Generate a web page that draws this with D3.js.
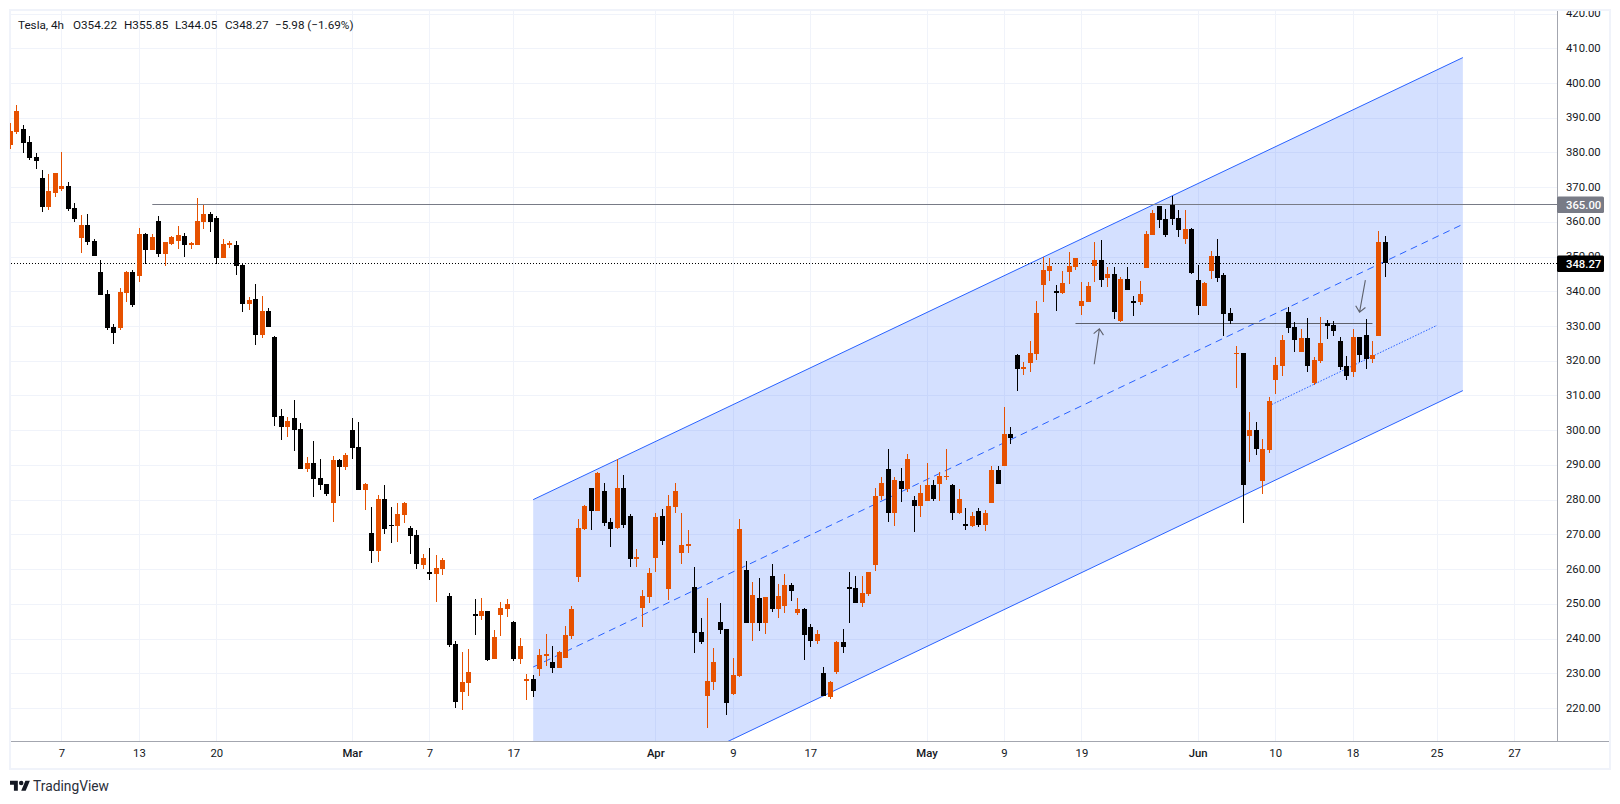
<!DOCTYPE html>
<html><head><meta charset="utf-8">
<script src="https://d3js.org/d3.v7.min.js"></script>
<style>
html,body{margin:0;padding:0;background:#fff}
svg{display:block}
text{font-family:Roboto,sans-serif;fill:#131722}
</style></head><body>
<div id="chart"></div>
<script>
const opens=[382.1,385.8,386.7,382.9,378.6,372.55,364.2,368.2,369.4,370.25,
363.9,355.25,359,354.4,345.5,339.15,329.65,329.35,339.4,345.5,
344.3,356.4,351.8,360.15,350.65,353.55,354.4,355.85,353.25,353.25,
359.9,362.2,361,349.5,353.25,353.25,347.5,336.25,337.7,327.35,
334.25,326.8,304,300.85,303.45,300.3,288.75,290.5,286.2,284.45,
278.95,291.35,289.35,300,295.1,282.7,270.3,265.15,280.1,272.6,
272.3,275.5,271.75,269.75,261.1,259.1,258.5,259.95,252.2,238.35,
224.5,227.1,247,246.4,247.85,234,246.7,248.4,244.7,234,
227.7,228.3,231.15,234.9,233.2,231.45,234.35,240.65,257.65,271.5,
283.3,276.65,282.45,273.5,271.8,283.3,275.2,262.85,248.75,251.9,
263.15,275.2,254.2,277.8,264.6,266.6,254.8,241.8,223.4,227.4,
244.7,242.7,224,229.15,259.7,244.4,251.6,244.4,257.95,248.45,
249.3,255.35,247.3,248.45,243.25,239.2,230,223.1,230.3,238.9,
254.75,254.5,250.15,252.75,261.1,281,288.75,276.05,285.3,283,
279.8,278.1,279.5,284.15,284.4,286.45,284.15,276.05,272.9,272.35,
276.65,272.6,279,288.45,289.6,298.8,321.6,317.55,319.3,321.85,
341.75,345.8,340,339.45,345.5,346.95,335.7,336.85,347.2,348.95,
343.75,344.9,331.4,343.5,337.15,336.85,346.65,356.15,364.5,360.75,
364.8,361,355,357.9,343.2,335.7,345.8,350.1,344.6,333.7,
321.9,322.15,298.25,300,285.3,294.2,314.4,318.4,334,329.65,
322.45,326.5,313.5,319.85,330.8,330.2,325.6,318.4,316.7,326.8,
327.35,320.45,327.05,354.22];
const closes=[386.1,391.85,382.6,378.3,377.45,364.2,368.8,374,370.25,363.6,
360.75,359,354.1,350.1,338.85,329.35,327.9,339.7,345.5,336,
356.4,351.8,355.55,350.65,354.1,355.55,356.1,353.25,353.8,360.15,
362.2,359.9,349.5,353.55,353.8,347.2,336.25,337.4,327.35,334.25,
329.65,303.7,300.85,302.6,300,288.75,290.5,285.9,284.15,281.55,
291.35,289.35,292.8,294.8,282.7,284.45,265.15,280.1,271.5,272.3,
275.8,278.95,269.45,261.4,263.1,258.5,260.25,262.55,238.05,221.65,
227.4,230.3,246.4,247.85,233.75,240.4,248.7,249.9,234,237.8,
228.25,224.8,235.2,235.5,231.45,236.05,240.95,248.45,271.8,278.1,
276.65,287.6,273.2,271.5,283.3,272.65,262.85,263.4,252.2,258.8,
274.95,268,278.1,282.45,266.9,267.15,241.5,238.95,227.7,233.2,
242.4,221.4,229.4,271.5,244.4,252.5,244.4,251.9,248.45,252.2,
255.35,253.65,248.45,240.95,239.2,241.25,223.4,227.4,238.95,237.5,
254.2,250.15,253,259.1,280.95,284.7,276.05,285.6,283,291.65,
278.1,281.8,284.15,280.1,286.75,286.75,276.05,280.1,272.35,275.2,
272.6,276.05,288.45,284.4,298.8,297.7,317.55,318.1,322.15,333.7,
346.05,347.2,339.45,342.3,347.2,349.5,337.15,341.45,348.95,343.2,
344.9,334,343.5,340.3,336.55,339.15,356.45,362.5,360.5,356.15,
360.75,357.6,357.9,345.2,335.7,342.3,350.1,343.75,333.4,331.4,
322.15,284.15,300,294.5,294.5,308.35,318.7,325.9,329.35,325.9,
326.5,318.4,320.15,325.05,329.95,328.5,318.1,315.55,326.8,321.6,
320.45,321.6,354.22,348.27];
const highs=[388.5,393.6,387.8,384.65,379.75,374.85,373.7,374,380.05,371.4,
365.35,361.9,362.2,355,348.9,340.3,330.5,340.9,345.75,346,
358.15,356.7,356.4,361.6,354.1,355.85,358.7,356.7,354.1,366.8,
364.8,362.75,361.6,355,354.4,354.4,347.8,338.3,342,338.55,
335.1,327.05,306,303.75,308.6,302,292.2,296.8,291.6,284.45,
292.5,291.6,293.35,303.45,302.3,284.7,277.8,281.25,284.15,277.8,
279,279.25,272.3,271.2,264.3,266,264,263.1,253,239.2,
236,236.9,251.3,251.6,247.85,242.4,250.45,251.3,245,240.1,
229.7,229.4,236.9,241.25,237.8,236.35,243.55,249.3,274.35,278.4,
283.3,287.9,284.75,274.65,291.65,287,275.8,265.7,253.9,260.25,
276.1,277.25,281.3,284.75,276.1,271.2,260.55,245.85,251.6,237.2,
250.2,242.7,234.3,274.35,262.3,256.2,257.4,251.9,261.4,255.65,
258.5,255.9,251.6,248.75,244.1,242.4,231.75,227.7,239.2,242.65,
259.1,257.9,257.9,259.1,283.3,286.45,294.5,286.45,289,293.05,
281,284.15,290.5,285.6,287.9,294.5,284.4,283,277.5,276.35,
277.5,277,289.6,289.6,306.6,300.85,321.9,319.55,325.6,337.15,
349.8,349.5,341.75,345.8,351.25,349.5,342.6,342.6,354.15,354.7,
346.95,346.95,344.05,346.95,338.6,342.9,357.3,363.35,364.5,363.65,
367.4,363.35,363.35,358.15,347.5,342.6,351.55,355,345.2,335.1,
324.2,322.3,305.15,302.3,297.4,309.5,321,327.35,335.4,331.1,
329.1,332.25,321,332.5,331.65,331.4,326.8,321.3,329.1,326.8,
332,325.6,357.3,355.85];
const lows=[380.9,385.2,379.75,377.7,375.15,362.75,363.3,367.1,368.8,363.05,
359.9,350.95,353.25,350.1,338.85,328.8,324.75,328.8,336.85,335.4,
342.6,347.8,351.8,349.8,347.2,353.25,352.1,349.8,352.1,353.25,
357.85,357,347.8,349.5,352.4,344.6,334,334.5,324.45,326.5,
329.65,301.15,297.1,298,293.95,288.75,287.9,280.7,282.7,281,
273.5,281,288.45,291.6,282.7,276.95,261.7,262,270,267.45,
267.7,273.2,264.3,259.95,259.95,256.8,250.45,258.2,237.5,219.9,
219.35,223.4,241,245.25,233.45,234,240.65,246.1,233.45,232.6,
222.2,223.1,229.15,232,230,231.45,234.35,239.8,256.2,271.2,
271.2,276.65,272.35,266.3,271.5,271.8,260.55,260.55,243.25,250.15,
259.1,266.9,251,276.1,261.4,264.6,235.8,238.35,214.3,225.1,
241.25,217.9,223.7,228.85,244.4,239.2,242.1,241.25,247.6,245.85,
247.3,250.75,246.7,233.75,237.5,238.35,223.4,222.5,229.7,235.8,
244.4,250.15,249,252.2,259.35,279.8,273.5,272.3,279.25,282.1,
270.6,274.9,279.5,279.5,279.5,285.6,274.05,275.8,271.2,272,
272,270.9,279,284.4,289.6,296,311.2,315.8,316.7,320.15,
336.85,342.9,334.25,339.15,342,346.1,333.1,336.85,342.6,341.2,
341.2,331.95,331.1,340.3,332.8,336,346.65,356.15,358.15,355.6,
359,355.6,353.55,344.9,333.1,335.7,343.5,342.6,327.05,330.5,
312.1,273.3,290.75,292.8,281.55,293.35,310.35,315.55,327.95,322.45,
322.45,316.7,312.95,319.3,326.2,327.05,317.25,314.4,315.25,319.6,
317.55,319.3,327.05,344.05];

const timeTickBars=[8,20,32,53,65,78,100,112,124,142,154,166,184,196,208,221,233];
const timeTickLabels=["7","13","20","Mar","7","17","Apr","9","17","May","9","19","Jun","10","18","25","27"];
const boldTicks=["Mar","Apr","May","Jun"];
const priceTicks=[220,230,240,250,260,270,280,290,300,310,320,330,340,350,360,370,380,390,400,410,420];

const channelUpper=[[81,280],[225,407.3]];
const channelMiddle=[[81,231.8],[225,359.3]];
const channelLower=[[81,183.6],[225,311.4]];
const resistanceLine=[[22,365],[240,365]];
const necklineLine=[[165,331],[211,331]];
const trendDotted=[[195.4,307.4],[221,330.2]];
const arrowUp=[[167.9,319],[168.7,329.2]];
const arrowDown=[[209.9,343.2],[209,334]];
const lastPrice=348.27, levelPrice=365;
const headerItems=["Tesla, 4h","O354.22","H355.85","L344.05","C348.27","−5.98 (−1.69%)"];
const headerX=[18,73,124,175,225,275];

const W=1620,H=804,axisX=1557,axisY=741,plotL=11,plotT=11;
const x=d3.scaleLinear().domain([0,233]).range([10.25,10.25+233*6.456]);
const y=d3.scaleLinear().domain([220,420]).range([708,13.5]);
const px=v=>Math.floor(x(v)), py=v=>Math.round(y(v));

const svg=d3.select("#chart").append("svg").attr("width",W).attr("height",H);
const defs=svg.append("defs");
defs.append("clipPath").attr("id","plot").append("rect").attr("x",plotL).attr("y",plotT).attr("width",axisX-plotL).attr("height",axisY-plotT);
defs.append("clipPath").attr("id","candleclip").append("rect").attr("x",10).attr("y",plotT).attr("width",axisX-10).attr("height",axisY-plotT);
defs.append("clipPath").attr("id","pa").append("rect").attr("x",axisX).attr("y",plotT).attr("width",52).attr("height",axisY-plotT);

svg.append("rect").attr("x",10).attr("y",10).attr("width",1600).attr("height",759)
  .attr("fill","none").attr("stroke","#f0f3fa").attr("stroke-width",2);

const grid=svg.append("g").attr("clip-path","url(#plot)").attr("stroke","#f0f3fa").attr("stroke-width",1);
grid.selectAll("line.h").data(priceTicks).join("line").attr("class","h").attr("x1",plotL).attr("x2",axisX)
  .attr("y1",d=>py(d)+.5).attr("y2",d=>py(d)+.5);
grid.selectAll("line.v").data(timeTickBars).join("line").attr("class","v").attr("y1",plotT).attr("y2",axisY)
  .attr("x1",d=>px(d)+.5).attr("x2",d=>px(d)+.5);

const draw=svg.append("g").attr("clip-path","url(#plot)");
const ln=d3.line().x(d=>x(d[0])).y(d=>y(d[1]));
draw.append("path").attr("fill","#2962ff").attr("fill-opacity",.2)
  .attr("d",ln([channelUpper[0],channelUpper[1],channelLower[1],channelLower[0]])+"Z");
draw.append("path").attr("d",ln(channelUpper)).attr("fill","none").attr("stroke","#2962ff").attr("stroke-width",1);
draw.append("path").attr("d",ln(channelLower)).attr("fill","none").attr("stroke","#2962ff").attr("stroke-width",1);
draw.append("path").attr("d",ln(channelMiddle)).attr("fill","none").attr("stroke","#2962ff").attr("stroke-width",1).attr("stroke-dasharray","7 5");
draw.append("path").attr("d",ln(trendDotted)).attr("fill","none").attr("stroke","#2962ff").attr("stroke-width",1).attr("stroke-dasharray","1.5 1.5");

const hLine=(pts,col)=>draw.append("line").attr("x1",x(pts[0][0])).attr("x2",x(pts[1][0]))
  .attr("y1",py(pts[0][1])+.5).attr("y2",py(pts[0][1])+.5).attr("stroke",col).attr("stroke-width",1);
hLine(resistanceLine,"#787b86");
hLine(necklineLine,"#5d606b");
draw.append("line").attr("x1",plotL).attr("x2",axisX).attr("y1",py(lastPrice)+.5).attr("y2",py(lastPrice)+.5)
  .attr("stroke","#000").attr("stroke-width",1).attr("stroke-dasharray","1 2");

function arrow(a){
  const x1=x(a[0][0]),y1=y(a[0][1]),x2=x(a[1][0]),y2=y(a[1][1]);
  const t=Math.atan2(y2-y1,x2-x1),l=7.5,s=.72;
  const p=[[x2-l*Math.cos(t-s),y2-l*Math.sin(t-s)],[x2,y2],[x2-l*Math.cos(t+s),y2-l*Math.sin(t+s)]];
  draw.append("path").attr("d",`M${x1},${y1}L${x2},${y2}M${p[0]}L${p[1]}L${p[2]}`)
    .attr("fill","none").attr("stroke","#5d606b").attr("stroke-width",1.1);
}
arrow(arrowUp);arrow(arrowDown);

const bars=opens.map((o,i)=>({i,o,h:highs[i],l:lows[i],c:closes[i]}));
const gc=svg.append("g").attr("clip-path","url(#candleclip)").attr("shape-rendering","crispEdges");
const color=d=>d.c>=d.o?"#e65100":"#000000";
gc.selectAll("rect.w").data(bars).join("rect").attr("class","w")
  .attr("x",d=>px(d.i)).attr("width",1)
  .attr("y",d=>py(d.h)).attr("height",d=>Math.max(1,py(d.l)-py(d.h))).attr("fill",color);
gc.selectAll("rect.b").data(bars).join("rect").attr("class","b")
  .attr("x",d=>px(d.i)-2).attr("width",5)
  .attr("y",d=>py(Math.max(d.o,d.c))).attr("height",d=>Math.max(1,py(Math.min(d.o,d.c))-py(Math.max(d.o,d.c)))).attr("fill",color);

const yAxis=d3.axisRight(y).tickValues(priceTicks).tickFormat(d=>d.toFixed(2)).tickSize(0).tickPadding(9);
const ya=svg.append("g").attr("clip-path","url(#pa)").append("g").attr("transform",`translate(${axisX},0)`).call(yAxis);
ya.select(".domain").remove();
ya.selectAll("text").attr("font-family","Roboto,sans-serif").attr("font-size",11.3).attr("fill","#131722").attr("dy",".27em");

const xAxis=d3.axisBottom(x).tickValues(timeTickBars).tickFormat((d,i)=>timeTickLabels[i]).tickSize(0).tickPadding(8);
const xa=svg.append("g").attr("transform",`translate(-0.5,${axisY})`).call(xAxis);
xa.select(".domain").remove();
xa.selectAll("text").attr("font-family","Roboto,sans-serif").attr("font-size",11.3).attr("fill","#131722")
  .attr("font-weight",(d,i)=>boldTicks.includes(timeTickLabels[i])?500:400);

svg.append("line").attr("x1",axisX+.5).attr("x2",axisX+.5).attr("y1",plotT).attr("y2",axisY+1).attr("stroke","#a3a6af");
svg.append("line").attr("x1",plotL).attr("x2",1609).attr("y1",axisY+.5).attr("y2",axisY+.5).attr("stroke","#a3a6af");

function tag(v,fill){
  const c=py(v)+.5;
  svg.append("rect").attr("x",axisX).attr("y",c-8).attr("width",47).attr("height",16.5).attr("rx",1.5).attr("fill",fill);
  svg.append("text").attr("x",axisX+9).attr("y",c+4.2).attr("font-size",11.3).attr("font-weight",500).style("fill","#fff").text(v.toFixed(2));
}
tag(levelPrice,"#787b86");tag(lastPrice,"#000");

svg.append("g").selectAll("text").data(headerItems).join("text")
  .attr("x",(d,i)=>headerX[i]).attr("y",28.5).attr("font-size",11.7).text(d=>d);

svg.append("g").attr("transform","translate(10,778.5) scale(.56)").attr("fill","#131722")
  .html('<path d="M14 22H7V11H0V4h14v18zM28 22h-8l7.5-18h8L28 22z"/><circle cx="20" cy="8" r="4"/>');
svg.append("text").attr("x",33).attr("y",790.5).attr("font-size",13.8).style("fill","#2a2e39").text("TradingView");
</script>
</body></html>
